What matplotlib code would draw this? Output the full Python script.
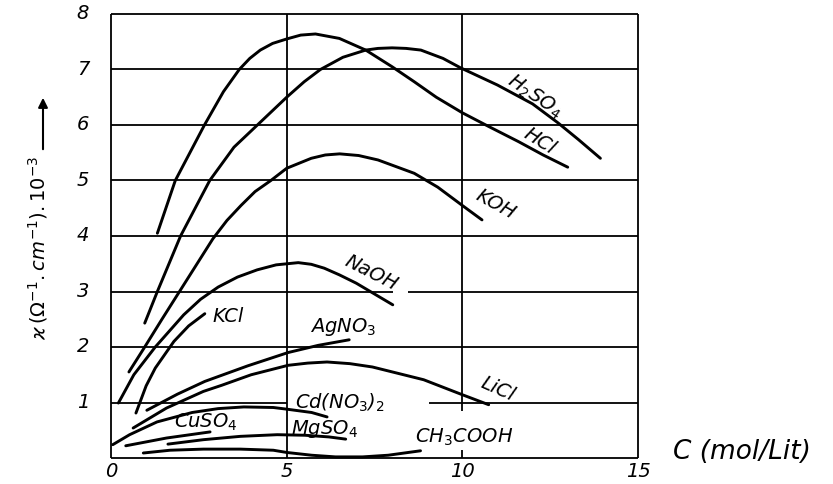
import matplotlib
matplotlib.use("Agg")
import matplotlib.pyplot as plt
from matplotlib.patches import FancyArrowPatch

plt.rcParams['font.family'] = ['DejaVu Sans']
plt.rcParams['mathtext.default'] = 'it'

# ---- data ----
hcl_x = [1.32, 1.83, 2.66, 3.2, 3.65, 3.95, 4.25, 4.6, 5.0, 5.4, 5.82, 6.5, 7.25, 8.0, 8.63, 9.26, 10.0, 10.76, 11.6, 12.3, 13.0]
hcl_y = [4.05, 5.0, 6.0, 6.6, 7.0, 7.2, 7.35, 7.47, 7.55, 7.62, 7.64, 7.56, 7.35, 7.05, 6.78, 6.5, 6.22, 5.97, 5.7, 5.46, 5.24]

h2so4_x = [0.96, 1.32, 1.98, 2.81, 3.5, 4.25, 5.0, 5.5, 5.96, 6.6, 7.25, 7.6, 8.0, 8.4, 8.82, 9.45, 9.95, 11.0, 12.0, 12.72, 13.3, 13.93]
h2so4_y = [2.43, 3.0, 4.0, 5.0, 5.6, 6.05, 6.5, 6.78, 7.0, 7.22, 7.35, 7.38, 7.39, 7.38, 7.35, 7.2, 7.03, 6.72, 6.38, 6.04, 5.74, 5.4]

koh_x = [0.51, 0.96, 1.45, 1.95, 2.9, 3.3, 3.7, 4.1, 4.55, 5.0, 5.7, 6.1, 6.51, 7.05, 7.6, 8.63, 9.3, 10.0, 10.56]
koh_y = [1.55, 2.0, 2.5, 3.0, 3.95, 4.28, 4.55, 4.8, 5.0, 5.22, 5.4, 5.46, 5.48, 5.45, 5.37, 5.13, 4.88, 4.55, 4.29]

naoh_x = [0.21, 0.65, 1.26, 2.07, 2.55, 3.05, 3.6, 4.16, 4.7, 5.33, 5.7, 6.07, 6.5, 6.98, 8.02]
naoh_y = [0.99, 1.5, 2.0, 2.58, 2.86, 3.08, 3.26, 3.39, 3.48, 3.52, 3.49, 3.42, 3.3, 3.15, 2.76]

kcl_x = [0.71, 1.0, 1.26, 1.79, 2.21, 2.67]
kcl_y = [0.81, 1.3, 1.62, 2.1, 2.38, 2.6]

agno3_x = [1.02, 1.89, 2.67, 3.89, 5.04, 5.9, 6.78]
agno3_y = [0.86, 1.15, 1.38, 1.66, 1.9, 2.03, 2.13]

licl_x = [0.63, 1.58, 2.63, 3.15, 3.99, 5.04, 5.6, 6.15, 6.8, 7.44, 8.9, 10.0, 10.75]
licl_y = [0.54, 0.9, 1.2, 1.31, 1.5, 1.67, 1.71, 1.73, 1.7, 1.64, 1.41, 1.14, 0.96]

cdno3_x = [0.05, 0.53, 1.31, 2.31, 3.05, 3.78, 4.62, 5.0, 5.71, 6.15]
cdno3_y = [0.24, 0.42, 0.65, 0.82, 0.89, 0.92, 0.91, 0.88, 0.82, 0.74]

cuso4_x = [0.42, 1.58, 2.82]
cuso4_y = [0.22, 0.36, 0.47]

mgso4_x = [1.62, 2.63, 3.68, 4.73, 5.52, 6.2, 6.68]
mgso4_y = [0.25, 0.33, 0.39, 0.42, 0.41, 0.38, 0.34]

ch3cooh_x = [0.92, 1.68, 2.63, 3.68, 4.62, 5.0, 5.71, 6.39, 7.16, 7.89, 8.81]
ch3cooh_y = [0.09, 0.14, 0.16, 0.16, 0.14, 0.1, 0.05, 0.02, 0.02, 0.05, 0.13]

x_ticks = [0, 5, 10, 15]
y_ticks = [1, 2, 3, 4, 5, 6, 7, 8]

series = [
    (hcl_x, hcl_y), (h2so4_x, h2so4_y), (koh_x, koh_y), (naoh_x, naoh_y),
    (kcl_x, kcl_y), (agno3_x, agno3_y), (licl_x, licl_y), (cdno3_x, cdno3_y),
    (cuso4_x, cuso4_y), (mgso4_x, mgso4_y), (ch3cooh_x, ch3cooh_y),
]

# label text, x, y, rotation, ha
labels = [
    ("H$_2$SO$_4$", 12.05, 6.52, -34, 'center'),
    ("HCl", 12.2, 5.7, -32, 'center'),
    ("KOH", 10.95, 4.56, -29, 'center'),
    ("NaOH", 7.4, 3.33, -27, 'center'),
    ("KCl", 2.9, 2.55, 0, 'left'),
    ("AgNO$_3$", 5.66, 2.36, 0, 'left'),
    ("LiCl", 11.0, 1.24, -24, 'center'),
    ("Cd(NO$_3$)$_2$", 5.25, 1.0, 0, 'left'),
    ("CuSO$_4$", 1.8, 0.65, 0, 'left'),
    ("MgSO$_4$", 5.12, 0.53, 0, 'left'),
    ("CH$_3$COOH", 8.65, 0.38, 0, 'left'),
]

fig = plt.figure(figsize=(8.33, 4.84), dpi=100)
ax = fig.add_axes([111/833, 26/484, 527/833, 444/484])
ax.set_xlim(0, 15)
ax.set_ylim(0, 8)
ax.axis('off')

glw = 1.3
# horizontal grid lines (with gaps as in the original)
ax.hlines([0, 2, 4, 5, 6, 7, 8], 0, 15, color='black', lw=glw, clip_on=False)
ax.hlines(1, 0, 5, color='black', lw=glw, clip_on=False)
ax.hlines(1, 9.04, 15, color='black', lw=glw, clip_on=False)
ax.hlines(3, 0, 8.02, color='black', lw=glw, clip_on=False)
ax.hlines(3, 8.44, 15, color='black', lw=glw, clip_on=False)
# vertical grid lines
ax.vlines([0, 5, 15], 0, 8, color='black', lw=glw, clip_on=False)
ax.vlines(10, 0.85, 8, color='black', lw=glw, clip_on=False)
ax.vlines(10, 0, 0.15, color='black', lw=glw, clip_on=False)

for xs, ys in series:
    ax.plot(xs, ys, color='black', lw=2.1, solid_capstyle='round',
            solid_joinstyle='round', clip_on=False)

for txt, x, y, rot, ha in labels:
    ax.text(x, y, txt, rotation=rot, ha=ha, va='center', fontsize=14,
            style='italic', rotation_mode='anchor')

for t in x_ticks:
    ax.text(t, -0.25, str(t), ha='center', va='center', fontsize=14,
            style='italic', clip_on=False)
for t in y_ticks:
    ax.text(-0.8, t, str(t), ha='center', va='center', fontsize=14,
            style='italic', clip_on=False)

ax.text(16.0, 0.1, "C (mol/Lit)", ha='left', va='center', fontsize=19,
        style='italic', clip_on=False)

fig.text(38/833, 1 - 248/484, r"$\varkappa\,(\Omega^{-1}.cm^{-1}).10^{-3}$",
         rotation=90, ha='center', va='center', fontsize=14)
fig.patches.append(FancyArrowPatch(
    (43/833, 1 - 152/484), (43/833, 1 - 95/484), transform=fig.transFigure,
    arrowstyle='-|>', mutation_scale=14, color='black', lw=1.5))

fig.savefig("out.png", dpi=100, facecolor='white')
